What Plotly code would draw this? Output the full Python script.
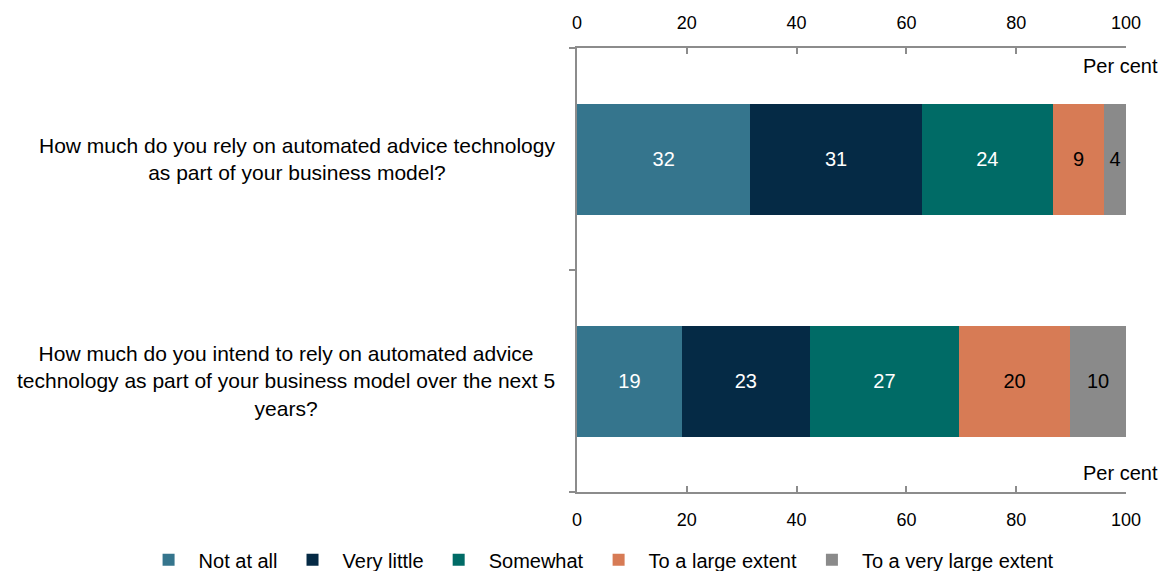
import plotly.graph_objects as go

questions = [
    "How much do you rely on automated advice technology<br>as part of your business model?",
    "How much do you intend to rely on automated advice<br>technology as part of your business model over the next 5<br>years?",
]
series = ["Not at all", "Very little", "Somewhat", "To a large extent", "To a very large extent"]
current = [31.6, 31.2, 23.9, 9.3, 4.0]
next_5_years = [19.1, 23.3, 27.2, 20.2, 10.2]
colors = ["#35758D", "#052A45", "#006B66", "#D77B55", "#8A8A8A"]
text_colors = ["white", "white", "white", "black", "black"]

W, H = 1158, 563  # page body margin eats 8px

fig = go.Figure()
for i, name in enumerate(series):
    vals = [current[i], next_5_years[i]]
    fig.add_trace(go.Bar(
        y=questions, x=vals, name=name, orientation="h",
        marker=dict(color=colors[i], line=dict(width=0)),
        text=[str(round(v)) for v in vals],
        textposition="inside", insidetextanchor="middle",
        textfont=dict(color=text_colors[i], size=20),
        hoverinfo="x+name",
    ))

# invisible trace so the top axis gets drawn
fig.add_trace(go.Scatter(
    x=current, y=[questions[0]] * len(current), xaxis="x2", mode="none",
    showlegend=False, hoverinfo="skip",
))

axis_style = dict(
    range=[0, 100], dtick=20, showgrid=False, zeroline=False,
    showline=True, linecolor="#8C8C8C", linewidth=2,
    ticks="inside", ticklen=6, tickcolor="#8C8C8C", tickwidth=2,
    tickfont=dict(size=18, color="black"), automargin=False,
    ticklabelstandoff=10, domain=[569 / W, 1118 / W],
)

fig.update_layout(
    barmode="stack", bargap=0.5,
    width=W, height=H,
    margin=dict(l=0, r=0, t=40, b=79, autoexpand=False),
    plot_bgcolor="white", paper_bgcolor="white",
    font=dict(family="Liberation Sans, Arial", color="black"),
    xaxis=dict(**axis_style, side="bottom"),
    xaxis2=dict(**axis_style, side="top", overlaying="x", anchor="y"),
    yaxis=dict(
        categoryorder="array", categoryarray=questions[::-1],
        showticklabels=False, tickson="boundaries",
        ticks="outside", ticklen=6, tickcolor="#8C8C8C", tickwidth=2,
        showline=True, linecolor="#8C8C8C", linewidth=2,
        showgrid=False, zeroline=False, automargin=False,
    ),
    legend=dict(
        orientation="h", xref="paper", yref="container",
        x=0.51, xanchor="center", y=0.02, yanchor="middle",
        font=dict(size=20), traceorder="normal", itemwidth=50,
    ),
    showlegend=True,
)

for q in questions:
    fig.add_annotation(
        text=q, xref="x domain", yref="y", x=-0.036, y=q,
        xanchor="right", yanchor="middle", align="center",
        showarrow=False, font=dict(size=21),
    )

fig.add_annotation(text="Per cent", xref="x domain", yref="y domain", x=1.062, y=0.959,
                   xanchor="right", yanchor="middle", showarrow=False, font=dict(size=20))
fig.add_annotation(text="Per cent", xref="x domain", yref="y domain", x=1.062, y=0.043,
                   xanchor="right", yanchor="middle", showarrow=False, font=dict(size=20))

fig.write_html("out.html")
